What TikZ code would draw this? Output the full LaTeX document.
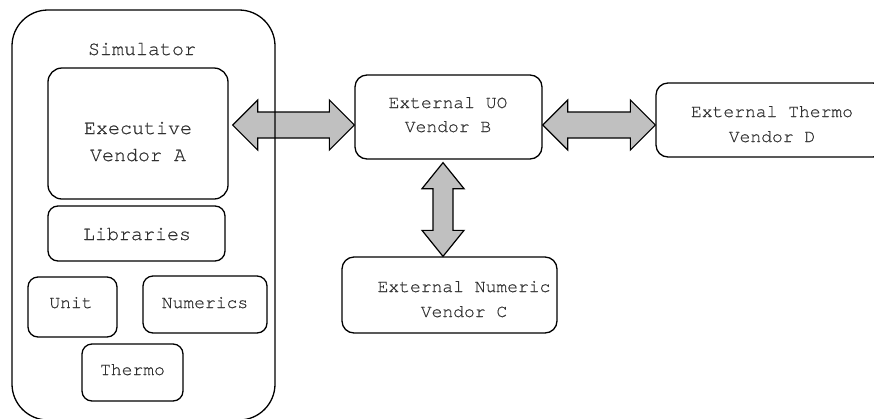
\documentclass[tikz,border=0pt]{standalone}
\usepackage{fontspec}
\newfontfamily\curfont[FakeBold=0.5]{TeX Gyre Cursor}
\usetikzlibrary{calc,backgrounds}
\definecolor{arrgray}{HTML}{C0C0C0}
\definecolor{txtgray}{HTML}{303030}
\tikzset{
  box/.style={draw, line width=1.3pt, inner sep=0pt, rounded corners=#1},
  box/.default=10pt,
  biglbl/.style={font=\curfont\fontsize{20}{24}\selectfont, text=txtgray, inner sep=0pt, anchor=base},
  lbl/.style={font=\curfont\fontsize{18}{22}\selectfont, text=txtgray, inner sep=0pt, anchor=base},
  fatarr/.style={draw, fill=arrgray, line width=1.2pt, line join=miter},
}
\newcommand\harrow[2]{%
  \path[fatarr] let \p1=(#1), \p2=(#2) in
  (\x1,\y1) -- (\x1+25pt,\y1+25pt) -- (\x1+25pt,\y1+13pt) -- (\x2-25pt,\y1+13pt) -- (\x2-25pt,\y1+25pt)
  -- (\x2,\y1) -- (\x2-25pt,\y1-25pt) -- (\x2-25pt,\y1-13pt) -- (\x1+25pt,\y1-13pt) -- (\x1+25pt,\y1-25pt) -- cycle;}
\newcommand\varrow[2]{%
  \path[fatarr] let \p1=(#1), \p2=(#2) in
  (\x1,\y1) -- (\x1+21pt,\y1-26pt) -- (\x1+10pt,\y1-26pt) -- (\x1+10pt,\y2+26pt) -- (\x1+21pt,\y2+26pt)
  -- (\x1,\y2) -- (\x1-21pt,\y2+26pt) -- (\x1-10pt,\y2+26pt) -- (\x1-10pt,\y1-26pt) -- (\x1-21pt,\y1-26pt) -- cycle;}
\begin{document}
\begin{tikzpicture}[x=1pt,y=-1pt]
\useasboundingbox (0,0) rectangle (874,418);
\clip (0,0) rectangle (874,418);
% boxes
\node[box=36pt, minimum width=263pt, minimum height=410pt] (sim) at (143.5,215) {};
\node[box=14pt, minimum width=180pt, minimum height=131pt] (exec) at (138,133.5) {};
\node[box, minimum width=177pt, minimum height=55pt] (libs) at (136.5,233.5) {};
\node[box, minimum width=89pt, minimum height=60pt] (unit) at (72.5,307) {};
\node[box, minimum width=124pt, minimum height=57pt] (num) at (205,304.5) {};
\node[box, minimum width=101pt, minimum height=57pt] (thermo) at (132.5,372.5) {};
\node[box=12pt, minimum width=187pt, minimum height=84pt] (extB) at (448.5,117) {};
\node[box=12pt, minimum width=229pt, minimum height=74pt] (extD) at (770.5,120) {};
\node[box=12pt, minimum width=215pt, minimum height=76pt] (extC) at (449.5,295) {};
% labels
\node[biglbl] (simT) at (142,55) {Simulator};
\node[biglbl] (execT1) at (138,134) {Executive};
\node[biglbl] (execT2) at (138,161) {Vendor A};
\node[biglbl] (libsT) at (137,240) {Libraries};
\node[lbl] (unitT) at (71,308) {Unit};
\node[lbl] (numT) at (205,308) {Numerics};
\node[lbl] (thermoT) at (132.5,375) {Thermo};
\node[lbl] (extBT1) at (448,108) {External UO};
\node[lbl] (extBT2) at (448,132) {Vendor B};
\node[lbl] (extDT1) at (772,117) {External Thermo};
\node[lbl] (extDT2) at (772,142) {Vendor D};
\node[lbl] (extCT1) at (464,292) {External Numeric};
\node[lbl] (extCT2) at (464,317) {Vendor C};
% arrow end points
\coordinate (a1l) at ($(exec.east |- 0,125)+(4,0)$);
\coordinate (a1r) at (extB.west |- 0,125);
\coordinate (a2l) at (extB.east |- 0,125);
\coordinate (a2r) at (extD.west |- 0,125);
\coordinate (a3t) at ($(extB.south)+(-5.5,3)$);
\coordinate (a3b) at ($(extC.north)+(-6.5,0)$);
\begin{pgfonlayer}{background}
\harrow{a1l}{a1r}
\harrow{a2l}{a2r}
\varrow{a3t}{a3b}
\end{pgfonlayer}
\end{tikzpicture}
\end{document}
